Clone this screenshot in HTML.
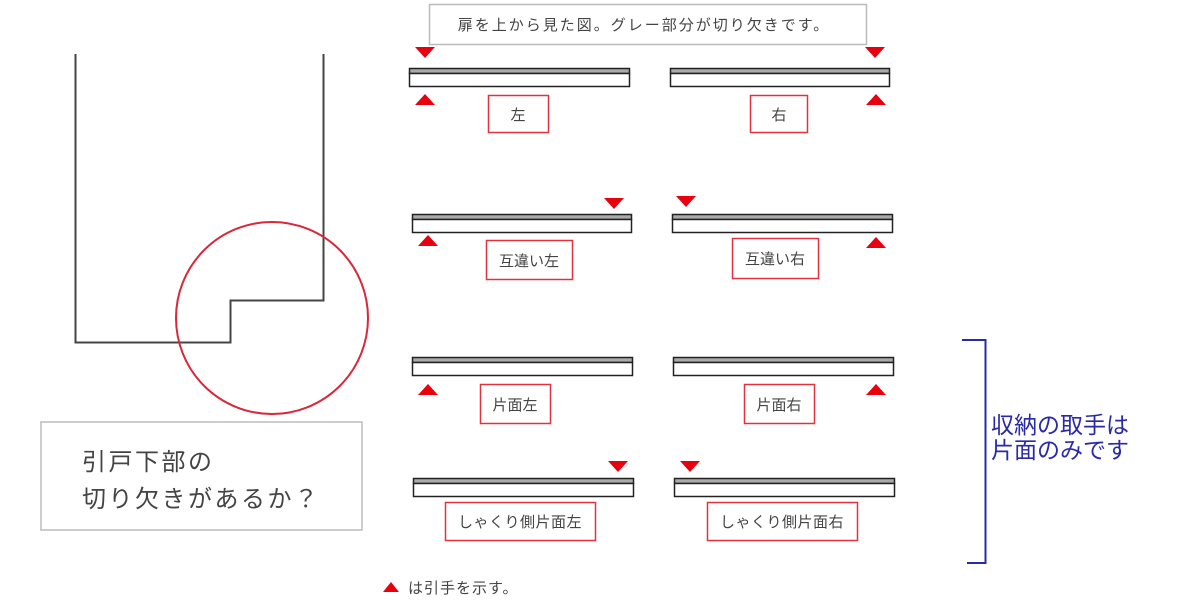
<!DOCTYPE html>
<html><head><meta charset="utf-8"><style>
html,body{margin:0;padding:0;background:#fff;width:1200px;height:600px;overflow:hidden}
svg{display:block}
text{font-family:"Liberation Sans","Noto Sans CJK JP",sans-serif}
</style></head><body>
<svg width="1200" height="600" viewBox="0 0 1200 600" xmlns="http://www.w3.org/2000/svg">
<path d="M75.5 54 V342.5 H230.5 V300.5 H323.5 V54" fill="none" stroke="#444" stroke-width="2"/>
<circle cx="272" cy="318" r="96" fill="none" stroke="#d8283a" stroke-width="2"/>
<rect x="41" y="422" width="321" height="108" fill="#fff" stroke="#bbb" stroke-width="1.5"/>
<text x="82" y="470" font-size="24" fill="#444" letter-spacing="2.5">引戸下部の</text>
<text x="82" y="507" font-size="24" fill="#444" letter-spacing="2.5">切り欠きがあるか？</text>
<rect x="429.5" y="4.5" width="437" height="40" fill="#fff" stroke="#bbb" stroke-width="1.5"/>
<text x="644" y="30" font-size="15" fill="#444" text-anchor="middle" letter-spacing="2">扉を上から見た図。グレー部分が切り欠きです。</text>
<g stroke="#222" stroke-width="1.5">
<rect x="409.5" y="68.5" width="220" height="5" fill="#aaa"/><rect x="409.5" y="73.5" width="220" height="13" fill="#fff"/>
<rect x="670.5" y="68.5" width="219" height="5" fill="#aaa"/><rect x="670.5" y="73.5" width="219" height="13" fill="#fff"/>
<rect x="412.5" y="214.5" width="219" height="5" fill="#aaa"/><rect x="412.5" y="219.5" width="219" height="13" fill="#fff"/>
<rect x="672.5" y="214.5" width="220" height="5" fill="#aaa"/><rect x="672.5" y="219.5" width="220" height="13" fill="#fff"/>
<rect x="412.5" y="357.5" width="220" height="5" fill="#aaa"/><rect x="412.5" y="362.5" width="220" height="13" fill="#fff"/>
<rect x="673.5" y="357.5" width="220" height="5" fill="#aaa"/><rect x="673.5" y="362.5" width="220" height="13" fill="#fff"/>
<rect x="413.5" y="478.5" width="220" height="5" fill="#aaa"/><rect x="413.5" y="483.5" width="220" height="13" fill="#fff"/>
<rect x="674.5" y="478.5" width="220" height="5" fill="#aaa"/><rect x="674.5" y="483.5" width="220" height="13" fill="#fff"/>
</g>
<g fill="#e8000f">
<polygon points="415,47 435,47 425,58"/><polygon points="415,105 435,105 425,94"/>
<polygon points="865,47 885,47 875,58"/><polygon points="866,105 886,105 876,94"/>
<polygon points="604,198 624,198 614,209"/><polygon points="418,246 438,246 428,235"/>
<polygon points="676,196 696,196 686,207"/><polygon points="866,248 886,248 876,237"/>
<polygon points="418,395 438,395 428,384"/><polygon points="866,395 886,395 876,384"/>
<polygon points="608,461 628,461 618,472"/><polygon points="680,461 700,461 690,472"/>
<polygon points="383,592 399,592 391,582"/>
</g>
<g fill="#fff" stroke="#e0323f" stroke-width="1.5">
<rect x="488.5" y="95.5" width="60" height="37"/>
<rect x="750.5" y="95.5" width="57" height="37"/>
<rect x="486.5" y="240.5" width="86" height="39"/>
<rect x="732.5" y="238.5" width="86" height="40"/>
<rect x="480.5" y="384.5" width="70" height="39"/>
<rect x="744.5" y="384.5" width="70" height="39"/>
<rect x="445.5" y="502.5" width="150" height="38"/>
<rect x="707.5" y="502.5" width="150" height="38"/>
</g>
<g font-size="15" fill="#444" text-anchor="middle">
<text x="518" y="120">左</text>
<text x="779" y="120">右</text>
<text x="529" y="266">互違い左</text>
<text x="775" y="264">互違い右</text>
<text x="515" y="410">片面左</text>
<text x="779" y="410">片面右</text>
<text x="520" y="527" letter-spacing="0.5">しゃくり側片面左</text>
<text x="782" y="527" letter-spacing="0.5">しゃくり側片面右</text>
</g>
<text x="408" y="593" font-size="15" fill="#444" letter-spacing="1">は引手を示す。</text>
<path d="M962 340 H985.5 V563 H967" fill="none" stroke="#2a2aa8" stroke-width="2"/>
<text x="991" y="433" font-size="23" fill="#2a2aa8">収納の取手は</text>
<text x="991" y="458" font-size="23" fill="#2a2aa8">片面のみです</text>
</svg>
</body></html>
